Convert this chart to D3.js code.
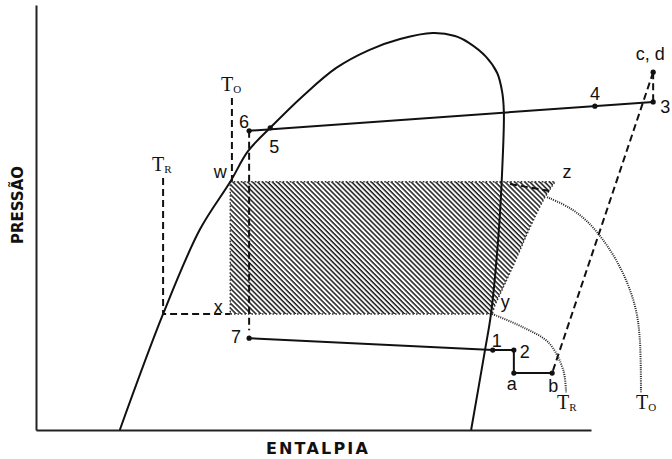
<!DOCTYPE html>
<html>
<head>
<meta charset="utf-8">
<script src="https://cdn.jsdelivr.net/npm/d3@7"></script>
<style>
  body { margin: 0; background: #fff; }
  svg { display: block; }
</style>
</head>
<body>
<svg id="canvas" width="672" height="459"></svg>
<script>
// saturation dome (enthalpy, pressure), left branch -> top -> right branch
var domeH = [15.1, 22.9, 29.5, 35.0, 38.2, 42.2, 48.1, 54.1, 60.0, 65.6, 71.5, 75.5, 78.0, 81.1, 83.1, 84.0, 84.3, 84.0, 83.4, 82.0, 80.9, 78.4];
var domeP = [0, 27.3, 47.1, 58.4, 65.6, 71.1, 78.6, 85.2, 89.4, 92.0, 93.4, 92.7, 91.1, 87.8, 84.0, 79.5, 74.8, 61.2, 47.1, 27.5, 18.8, 0];

// cycle state points
var pointNames = ['6', '5', '4', '3', 'c, d', '7', '1', '2', 'a', 'b'];
var pointH = [38.4, 42.2, 100.7, 111.2, 111.2, 38.4, 82.3, 86.1, 86.1, 93.0];
var pointP = [70.4, 71.1, 76.2, 77.2, 84.2, 21.6, 18.8, 18.8, 13.4, 13.4];

// hatched region (w - z - y - x)
var areaH = [35.0, 93.5, 91.6, 90.5, 88.8, 85.9, 82.7, 82.2, 35.0];
var areaP = [58.4, 58.4, 54.6, 51.8, 47.1, 38.4, 29.4, 27.3, 27.3];
var cornerNames = ['w', 'z', 'y', 'x'];
var cornerH = [35.0, 93.5, 82.2, 35.0];
var cornerP = [58.4, 58.4, 27.3, 27.3];

// isotherm curves
var toCurveH = [92.1, 96.2, 99.6, 103.4, 106.3, 108.1, 108.8, 109.0];
var toCurveP = [54.8, 52.2, 48.7, 42.4, 35.3, 28.2, 21.2, 8.9];
var trCurveH = [82.2, 87.7, 92.4, 95.0, 95.5];
var trCurveP = [27.3, 24.2, 20.5, 14.1, 8.9];
var zLeadH = [85.4, 92.6];
var zLeadP = [57.9, 56.2];

// dead-state / reservoir temperature guides
var toGuideH = [35.3, 35.3];
var toGuideP = [78.1, 58.4];
var trGuideH = [22.9, 22.9, 35.0];
var trGuideP = [59.3, 27.3, 27.3];
var sixSevenH = [38.4, 38.4];
var sixSevenP = [70.4, 23.5];

var svg = d3.select('#canvas');
var x = d3.scaleLinear().domain([0, 100]).range([36, 591]);
var y = d3.scaleLinear().domain([0, 100]).range([430, 5]);

function pts(hs, ps) {
    return hs.map(function(h, i) { return [h, ps[i]]; });
}

var line = d3.line()
    .x(function(d) { return x(d[0]); })
    .y(function(d) { return y(d[1]); });
var smooth = d3.line()
    .x(function(d) { return x(d[0]); })
    .y(function(d) { return y(d[1]); })
    .curve(d3.curveCatmullRom.alpha(0.5));

var defs = svg.append('defs');
defs.append('pattern')
    .attr('id', 'hatch')
    .attr('patternUnits', 'userSpaceOnUse')
    .attr('width', 3.5)
    .attr('height', 10)
    .attr('patternTransform', 'rotate(-45)')
    .append('line')
    .attr('x1', 1).attr('y1', -1)
    .attr('x2', 1).attr('y2', 11)
    .attr('stroke', '#1a1a1a')
    .attr('stroke-width', 1.5);

// axes
svg.append('g')
    .attr('transform', 'translate(' + x(0) + ',0)')
    .call(d3.axisLeft(y).tickValues([]).tickSizeOuter(0))
    .select('.domain').attr('stroke', '#222').attr('stroke-width', 2);
svg.append('g')
    .attr('transform', 'translate(0,' + y(0) + ')')
    .call(d3.axisBottom(x).tickValues([]).tickSizeOuter(0))
    .select('.domain').attr('stroke', '#222').attr('stroke-width', 2);

svg.append('text')
    .attr('transform', 'translate(23,205) rotate(-90)')
    .attr('text-anchor', 'middle')
    .attr('font-family', 'DejaVu Sans')
    .attr('font-weight', 'bold')
    .attr('font-size', 15)
    .attr('fill', '#111')
    .text('PRESSÃO');
svg.append('text')
    .attr('x', 318)
    .attr('y', 454)
    .attr('text-anchor', 'middle')
    .attr('font-family', 'DejaVu Sans')
    .attr('font-weight', 'bold')
    .attr('font-size', 16)
    .attr('letter-spacing', 2.2)
    .attr('fill', '#111')
    .text('ENTALPIA');

// hatched region
svg.append('path')
    .attr('d', line(pts(areaH, areaP)) + 'Z')
    .attr('fill', 'url(#hatch)')
    .attr('stroke', '#333')
    .attr('stroke-width', 1.5)
    .attr('stroke-dasharray', '1.5,2');

// dome
svg.append('path')
    .attr('d', smooth(pts(domeH, domeP)))
    .attr('fill', 'none')
    .attr('stroke', '#111')
    .attr('stroke-width', 2);

// dashed guides
[[toGuideH, toGuideP], [trGuideH, trGuideP], [sixSevenH, sixSevenP], [zLeadH, zLeadP],
 [[pointH[4], pointH[9]], [pointP[4], pointP[9]]],
 [[pointH[4], pointH[3]], [pointP[4], pointP[3]]]].forEach(function(g) {
    svg.append('path')
        .attr('d', line(pts(g[0], g[1])))
        .attr('fill', 'none')
        .attr('stroke', '#111')
        .attr('stroke-width', 2)
        .attr('stroke-dasharray', '7,4');
});

// dotted isotherms
[[toCurveH, toCurveP], [trCurveH, trCurveP]].forEach(function(g) {
    svg.append('path')
        .attr('d', smooth(pts(g[0], g[1])))
        .attr('fill', 'none')
        .attr('stroke', '#222')
        .attr('stroke-width', 2)
        .attr('stroke-dasharray', '1,1.2');
});

// cycle lines: 6-3, 7-1-2-a-b
var upper = [0, 3];
var lower = [5, 6, 7, 8, 9];
[upper, lower].forEach(function(idx) {
    svg.append('path')
        .attr('d', line(idx.map(function(i) { return [pointH[i], pointP[i]]; })))
        .attr('fill', 'none')
        .attr('stroke', '#111')
        .attr('stroke-width', 2);
});

svg.append('g').selectAll('circle')
    .data(pointNames)
    .enter().append('circle')
    .attr('cx', function(d, i) { return x(pointH[i]); })
    .attr('cy', function(d, i) { return y(pointP[i]); })
    .attr('r', 2.6)
    .attr('fill', '#111');

// point labels: offsets from each point
var labelOff = {
    '6': [-5, -3, 'middle'], '5': [4, 25, 'middle'], '4': [0, -6, 'middle'],
    '3': [7, 11, 'start'], 'c, d': [-3, -12, 'middle'], '7': [-8, 5, 'end'],
    '1': [4, -3, 'middle'], '2': [6, 8, 'start'], 'a': [-2, 17, 'middle'],
    'b': [1, 19, 'middle'],
    'w': [-10, -4, 'middle'], 'z': [12, -4, 'middle'], 'y': [13, -6, 'middle'],
    'x': [-12, -1, 'middle']
};
var labelData = pointNames.map(function(n, i) { return [n, pointH[i], pointP[i]]; })
    .concat(cornerNames.map(function(n, i) { return [n, cornerH[i], cornerP[i]]; }));
svg.append('g').selectAll('text')
    .data(labelData)
    .enter().append('text')
    .attr('x', function(d) { return x(d[1]) + labelOff[d[0]][0]; })
    .attr('y', function(d) { return y(d[2]) + labelOff[d[0]][1]; })
    .attr('text-anchor', function(d) { return labelOff[d[0]][2]; })
    .attr('font-family', 'Liberation Sans, Arial, sans-serif')
    .attr('font-size', 18)
    .attr('fill', '#111')
    .text(function(d) { return d[0]; });

// temperature labels
var tempNames = ['O', 'R', 'R', 'O'];
var tempH = [toGuideH[0], trGuideH[0], trCurveH[4], toCurveH[7]];
var tempP = [toGuideP[0], trGuideP[0], trCurveP[4], toCurveP[7]];
var tempOff = [[-11, -7], [-11, -7], [-9, 17], [-5, 17]];
tempNames.forEach(function(n, i) {
    var t = svg.append('text')
        .attr('x', x(tempH[i]) + tempOff[i][0])
        .attr('y', y(tempP[i]) + tempOff[i][1])
        .attr('font-family', 'Liberation Serif, serif')
        .attr('font-size', 20)
        .attr('fill', '#111');
    t.append('tspan').text('T');
    t.append('tspan').attr('font-size', 11).attr('dy', 2).text(n);
});
</script>
</body>
</html>
